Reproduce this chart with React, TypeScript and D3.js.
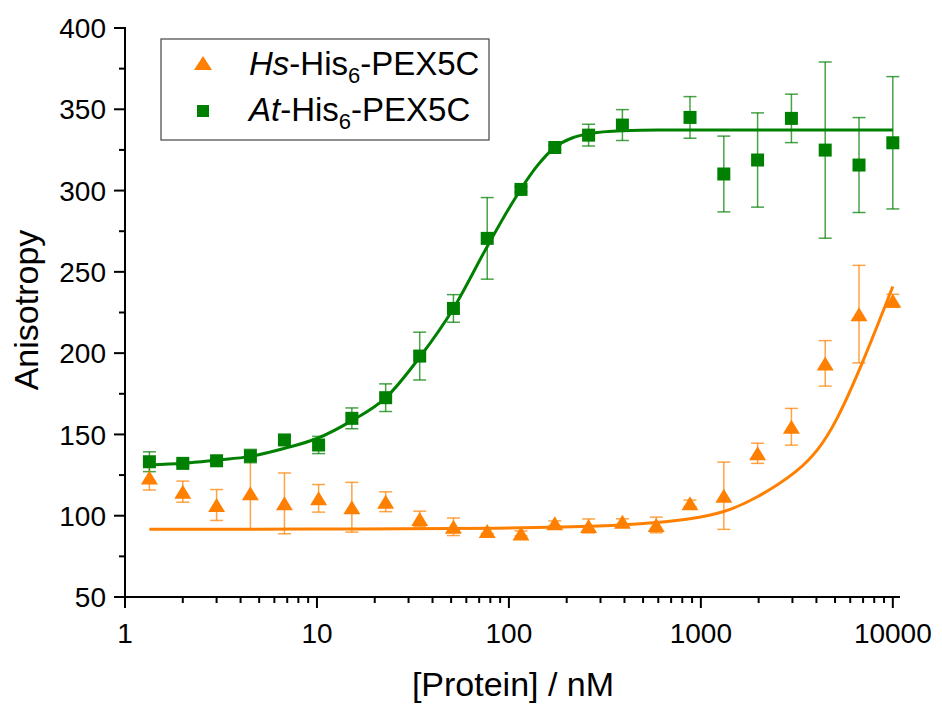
import React from "react";
import * as d3 from "d3";

// ---- data ----
const hsConc = [1.34, 2.0, 3.0, 4.5, 6.77, 10.2, 15.2, 22.8, 34.3, 51.4, 77.1, 115.6, 173.4, 260.1, 390.2, 585.3, 877.9, 1317, 1975, 2963, 4444, 6667, 10000];
const hsValues = [123.5, 114.8, 106.6, 113.8, 107.6, 110.7, 105.2, 108.6, 98.0, 93.2, 90.6, 89.1, 95.3, 93.7, 96.3, 94.3, 107.6, 112.3, 138.4, 154.7, 193.7, 224.0, 232.2];
const hsErrors = [7.7, 6.5, 9.5, 22, 18.7, 8.5, 15.3, 6.1, 4.8, 5.4, 1.5, 1.5, 1.5, 4.3, 1.8, 4.8, 2, 20.7, 6.2, 11.3, 14, 30, 4];

const atConc = [1.34, 2.0, 3.0, 4.5, 6.77, 10.2, 15.2, 22.8, 34.3, 51.4, 77.1, 115.6, 173.4, 260.1, 390.2, 877.9, 1317, 1975, 2963, 4444, 6667, 10000];
const atValues = [133.2, 132.2, 133.8, 136.7, 146.6, 143.5, 159.9, 172.6, 198.2, 227.5, 270.6, 300.7, 326.5, 334.1, 340.3, 345.0, 310.2, 318.8, 344.4, 324.9, 315.7, 329.4];
const atErrors = [6.1, 1.5, 1.5, 4.1, 1.5, 5.3, 6.4, 8.5, 14.7, 8.5, 25.1, 1.5, 1.5, 6.7, 9.5, 12.8, 23.3, 29, 14.9, 54.2, 29.2, 40.7];

// fitted curves
const atFitConc = [1.34, 2, 3, 4.5, 6.8, 10, 15.2, 22.8, 34.3, 51.4, 77, 100, 115.6, 140, 173, 215, 260, 390, 600, 1000, 10000];
const atFitValues = [131.2, 132.2, 134.2, 136.5, 141.5, 147.5, 158.5, 172.5, 197.5, 227.5, 265.5, 289, 301, 315, 326.5, 332.5, 335, 336.8, 337.2, 337.2, 337.2];
const hsFitConc = [1.34, 20, 100, 200, 300, 386, 583, 877, 1318, 1950, 3280, 4083, 5000, 6870, 10000];
const hsFitValues = [91.6, 91.8, 92.3, 93.0, 93.7, 94.3, 95.7, 97.8, 101.8, 110.5, 128, 140.4, 156, 192, 241];

const yTicks = [50, 100, 150, 200, 250, 300, 350, 400];
const xTicks = [1, 10, 100, 1000, 10000];
const xTickLabels = ["1", "10", "100", "1000", "10000"];

const GREEN = "#008000";
const ORANGE = "#ff8000";
const FONT = "Arial, 'Liberation Sans', sans-serif";

export default function App() {
  const W = 942, H = 704;
  const x = d3.scaleLog().domain([1, 10900]).range([125, 900]);
  const y = d3.scaleLinear().domain([50, 400]).range([597, 28]);

  const minorY = d3.range(75, 400, 50);
  const minorX: number[] = [];
  for (const dec of [1, 10, 100, 1000]) for (let k = 2; k <= 9; k++) minorX.push(dec * k);

  const lineMono = d3.line<[number, number]>().x(d => x(d[0])).y(d => y(d[1])).curve(d3.curveMonotoneX);
  const lineBasis = d3.line<[number, number]>().x(d => x(d[0])).y(d => y(d[1])).curve(d3.curveBasis);
  const atFit = lineMono(atFitConc.map((c, i) => [c, atFitValues[i]]));
  const hsFit = lineBasis(hsFitConc.map((c, i) => [c, hsFitValues[i]]));

  const cap = 6.5;
  const tri = (cx: number, cy: number, w = 17, h = 14) =>
    `M${cx - w / 2},${cy + h / 2}L${cx + w / 2},${cy + h / 2}L${cx},${cy - h / 2}Z`;
  const sq = 13;

  const errBars = (conc: number[], vals: number[], errs: number[], color: string) =>
    conc.map((c, i) => {
      const cx = x(c), y1 = y(vals[i] + errs[i]), y2 = y(vals[i] - errs[i]);
      return (
        <g key={i} stroke={color} strokeWidth={1.5} strokeOpacity={0.72}>
          <line x1={cx} x2={cx} y1={y1} y2={y2} />
          <line x1={cx - cap} x2={cx + cap} y1={y1} y2={y1} />
          <line x1={cx - cap} x2={cx + cap} y1={y2} y2={y2} />
        </g>
      );
    });

  return (
    <svg width={W} height={H} style={{ position: "absolute", left: 0, top: 0, background: "#fff" }} fontFamily={FONT}>
      {/* error bars */}
      {errBars(hsConc, hsValues, hsErrors, ORANGE)}
      {errBars(atConc, atValues, atErrors, GREEN)}
      {/* fits */}
      <path d={hsFit || ""} fill="none" stroke={ORANGE} strokeWidth={3} />
      <path d={atFit || ""} fill="none" stroke={GREEN} strokeWidth={3} />
      {/* markers */}
      {hsConc.map((c, i) => (
        <path key={"h" + i} d={tri(x(c), y(hsValues[i]))} fill={ORANGE} />
      ))}
      {atConc.map((c, i) => (
        <rect key={"a" + i} x={x(c) - sq / 2} y={y(atValues[i]) - sq / 2} width={sq} height={sq} fill={GREEN} />
      ))}

      {/* axes */}
      <g stroke="#000" strokeWidth={2}>
        <line x1={125} x2={125} y1={27} y2={598} />
        <line x1={124} x2={900} y1={597} y2={597} />
        {yTicks.map(t => <line key={"yt" + t} x1={114} x2={125} y1={y(t)} y2={y(t)} />)}
        {minorY.map(t => <line key={"ym" + t} x1={119} x2={125} y1={y(t)} y2={y(t)} />)}
        {xTicks.map(t => <line key={"xt" + t} x1={x(t)} x2={x(t)} y1={597} y2={608} />)}
        {minorX.map(t => <line key={"xm" + t} x1={x(t)} x2={x(t)} y1={597} y2={603} />)}
      </g>
      {yTicks.map(t => (
        <text key={"yl" + t} x={106} y={y(t)} dy="0.36em" textAnchor="end" fontSize={28} fill="#000">{t}</text>
      ))}
      {xTicks.map((t, i) => (
        <text key={"xl" + t} x={x(t)} y={643} textAnchor="middle" fontSize={28} fill="#000">{xTickLabels[i]}</text>
      ))}
      <text x={513} y={696} textAnchor="middle" fontSize={34} fill="#000">[Protein] / nM</text>
      <text transform="translate(38,310) rotate(-90)" textAnchor="middle" fontSize={34} fill="#000">Anisotropy</text>

      {/* legend */}
      <rect x={161} y={39} width={328} height={101} fill="#fff" stroke="#444" strokeWidth={1.2} />
      <path d={tri(203, 63, 18, 14)} fill={ORANGE} />
      <rect x={197} y={105} width={12} height={12} fill={GREEN} />
      <text x={249} y={75} fontSize={33} fill="#000">
        <tspan fontStyle="italic">Hs</tspan>-His<tspan fontSize={22} dy={8}>6</tspan><tspan dy={-8}>-PEX5C</tspan>
      </text>
      <text x={249} y={121} fontSize={33} fill="#000">
        <tspan fontStyle="italic">At</tspan>-His<tspan fontSize={22} dy={8}>6</tspan><tspan dy={-8}>-PEX5C</tspan>
      </text>
    </svg>
  );
}
